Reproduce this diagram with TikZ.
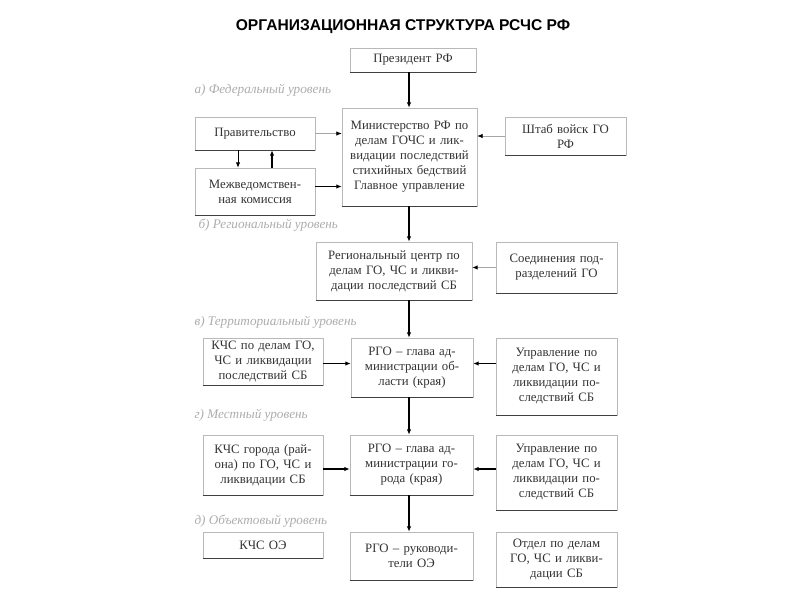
\documentclass[tikz,border=0pt]{standalone}
\usepackage{fontspec}
\setmainfont{Liberation Serif}
\newfontfamily\titlefont{Liberation Sans}
\usetikzlibrary{arrows.meta,positioning}

\tikzset{
  box/.style={draw=gray!55, fill=white, inner sep=0pt, align=center, text=black!80,
    font=\fontsize{12.8}{15}\selectfont},
  lvl/.style={anchor=west, text=gray!65, font=\fontsize{13.2}{15}\selectfont\itshape},
  conn/.style={-{Latex[length=5.5pt,width=4.5pt]}, line width=1.3pt},
  connthin/.style={draw=gray!70, line width=0.8pt, -{Latex[length=5.5pt,width=4.5pt,fill=black,color=black]}}
}

\begin{document}
\begin{tikzpicture}[x=1pt,y=-1pt]
	\useasboundingbox (0,0) rectangle (800,600);
	\node[font=\titlefont\bfseries\fontsize{15.6}{17}\selectfont] (title) at (403,27) {ОРГАНИЗАЦИОННАЯ СТРУКТУРА РСЧС РФ};
	\coordinate (axis) at (409,0);
	
	% a) federal level
	\node[box, minimum width=126, text width=126, minimum height=24] (pres) at (413,60) {Президент РФ};
	\node[box, minimum width=135, text width=135, minimum height=98] (min) at (409.5,157)
	{Министерство РФ по\\делам ГОЧС и лик-\\видации последствий\\стихийных бедствий\\Главное управление};
	\node[box, minimum width=120, text width=120, minimum height=33] (prav) at (255,133.5) {Правительство};
	\node[box, minimum width=120, text width=120, minimum height=47] (mvk) at (255,191.5) {Межведомствен-\\ная комиссия};
	\node[box, minimum width=121, text width=121, minimum height=38] (shtab) at (565.5,136) {Штаб войск ГО\\РФ};
	
	% b) regional level
	\node[box, minimum width=156, text width=156, minimum height=58] (reg) at (394,271)
	{Региональный центр по\\делам ГО, ЧС и ликви-\\дации последствий СБ};
	\node[box, minimum width=121, text width=121, minimum height=51] (soed) at (556.5,267.5) {Соединения под-\\разделений ГО};
	
	% c) territorial level
	\node[box, minimum width=120, text width=120, minimum height=47] (kchsa) at (263,361.5) {КЧС по делам ГО,\\ЧС и ликвидации\\последствий СБ};
	\node[box, minimum width=122, text width=122, minimum height=59] (rgoa) at (412,367.5) {РГО – глава ад-\\министрации об-\\ласти (края)};
	\node[box, minimum width=121, text width=121, minimum height=77] (upra) at (556.5,376.5)
	{Управление по\\делам ГО, ЧС и\\ликвидации по-\\следствий СБ};
	
	% d) local level
	\node[box, minimum width=120, text width=120, minimum height=60] (kchsb) at (263,465) {КЧС города (рай-\\она) по ГО, ЧС и\\ликвидации СБ};
	\node[box, minimum width=123, text width=123, minimum height=60] (rgob) at (411.5,465) {РГО – глава ад-\\министрации го-\\рода (края)};
	\node[box, minimum width=121, text width=121, minimum height=75] (uprb) at (556.5,472.5)
	{Управление по\\делам ГО, ЧС и\\ликвидации по-\\следствий СБ};
	
	% e) object level
	\node[box, minimum width=120, text width=120, minimum height=26] (kchsc) at (263,545) {КЧС ОЭ};
	\node[box, minimum width=123, text width=123, minimum height=48] (rgoc) at (411.5,556) {РГО – руководи-\\тели ОЭ};
	\node[box, minimum width=121, text width=121, minimum height=55] (otdel) at (556.5,559.5) {Отдел по делам\\ГО, ЧС и ликви-\\дации СБ};
	
	% darker lower edges
	\foreach \n in {pres,min,prav,mvk,shtab,reg,soed,kchsa,rgoa,upra,kchsb,rgob,uprb,kchsc,rgoc,otdel}
	\draw[black!75, line width=1pt] (\n.south west) -- (\n.south east);
	
	% level captions
	\node[lvl] (la) at (191,90) {а) Федеральный уровень};
	\node[lvl] (lb) at (195,225) {б) Региональный уровень};
	\node[lvl] (lc) at (191,322) {в) Территориальный уровень};
	\node[lvl] (ld) at (191,415) {г) Местный уровень};
	\node[lvl] (le) at (191,521) {д) Объектовый уровень};
	
	% arrow levels
	\coordinate (mvkout) at ([yshift=5]mvk.east);
	\coordinate (rowa) at ([yshift=-2]kchsa.east);
	\coordinate (rowb) at ([yshift=-4]kchsb.east);
	\coordinate (pravdown) at ([xshift=-17]prav.south);
	\coordinate (pravup) at ([xshift=17]prav.south);
	
	% vertical chain
	\draw[conn] (pres.south -| axis) -- (min.north -| axis);
	\draw[conn] (min.south -| axis) -- (reg.north -| axis);
	\draw[conn] (reg.south -| axis) -- (rgoa.north -| axis);
	\draw[conn] (rgoa.south -| axis) -- (rgob.north -| axis);
	\draw[conn] (rgob.south -| axis) -- (rgoc.north -| axis);
	
	% side links
	\draw[connthin] (prav.east) -- (min.west |- prav.east);
	\draw[conn] (mvkout) -- (min.west |- mvkout);
	\draw[connthin] (shtab.west) -- (min.east |- shtab.west);
	\draw[connthin, line width=1pt] (soed.west) -- (reg.east |- soed.west);
	\draw[conn] (rowa) -- (rgoa.west |- rowa);
	\draw[conn] (upra.west |- rowa) -- (rgoa.east |- rowa);
	\draw[conn] (rowb) -- (rgob.west |- rowb);
	\draw[conn] (uprb.west |- rowb) -- (rgob.east |- rowb);
	\draw[conn, line width=0.9pt] (pravdown) -- (mvk.north -| pravdown);
	\draw[conn] (mvk.north -| pravup) -- (pravup);
\end{tikzpicture}
\end{document}
